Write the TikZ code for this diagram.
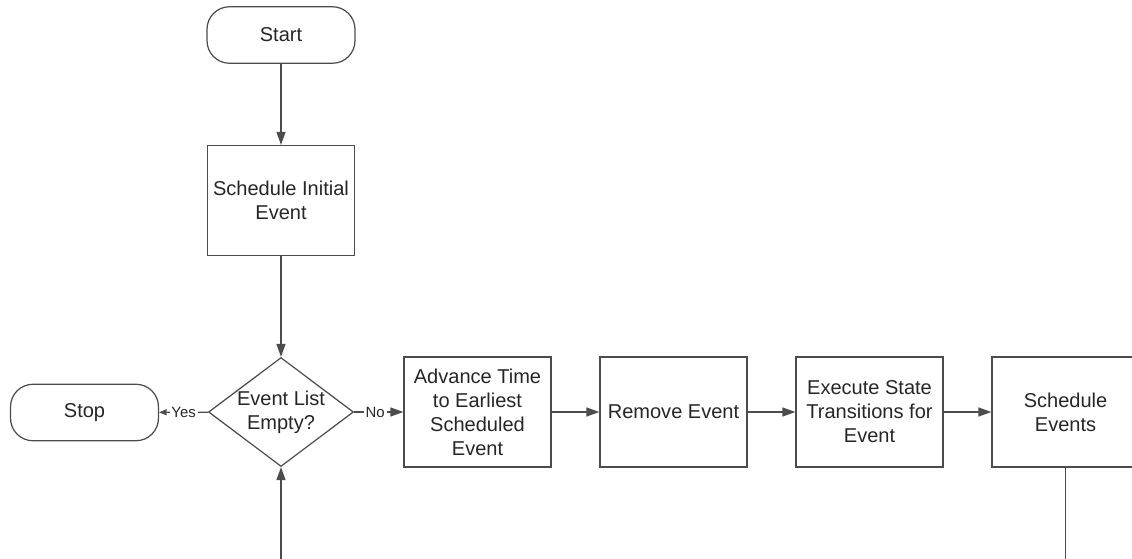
\documentclass[tikz,border=0pt]{standalone}
\usepackage{fontspec}
\setmainfont{Liberation Sans}
\usetikzlibrary{shapes.geometric,arrows.meta}

\tikzset{
    box/.style={draw=black!70, line width=0.7pt, minimum width=2.94cm, minimum height=2.2cm,
        inner sep=0pt, align=center, text=black!85},
    terminal/.style={box, rounded corners=0.45cm, minimum width=2.96cm, minimum height=1.13cm},
    decision/.style={box, diamond, shape aspect=1.33, minimum width=2.9cm, minimum height=2.18cm},
    flow/.style={draw=black!70, line width=0.7pt, -{Triangle[length=0.26cm,width=0.18cm]}},
    smallflow/.style={flow, -{Triangle[length=0.15cm,width=0.12cm]}},
    lbl/.style={fill=white, inner sep=1pt, text=black!85, font=\fontsize{8.5}{10}\selectfont}
}

\begin{document}
\begin{tikzpicture}[x=0.02cm, y=-0.02cm, font=\fontsize{11.4}{13.7}\selectfont]
\useasboundingbox (0,0) rectangle (1132,558);
\clip (0,0) rectangle (1132,558);

\node[terminal] (start) at (281,35) {Start};
\node[box] (init) at (281,200.5) {Schedule Initial\\Event};
\node[decision] (empty) at (281,412) {Event List\\Empty?};
\node[terminal] (stop) at (84.5,412.5) {Stop};
\node[box] (advance) at (477.5,412) {Advance Time\\to Earliest\\Scheduled\\Event};
\node[box] (remove) at (673.5,412) {Remove Event};
\node[box] (execute) at (869.5,412) {Execute State\\Transitions for\\Event};
\node[box] (sched) at (1065.5,412) {Schedule\\Events};

% loop back runs off the bottom edge
\coordinate (loopout) at (1065.5,560);
\coordinate (loopin) at (281,560);

\draw[flow] (start) -- (init);
\draw[flow] (init) -- (empty);
\draw[smallflow] (empty) -- node[lbl] {Yes} (stop);
\draw[flow] (empty) -- node[lbl, xshift=-2pt] {No} (advance);
\draw[flow] (advance) -- (remove);
\draw[flow] (remove) -- (execute);
\draw[flow] (execute) -- (sched);
\draw[draw=black!70, line width=0.7pt] (sched) -- (loopout);
\draw[flow] (loopin) -- (empty);
\end{tikzpicture}
\end{document}
